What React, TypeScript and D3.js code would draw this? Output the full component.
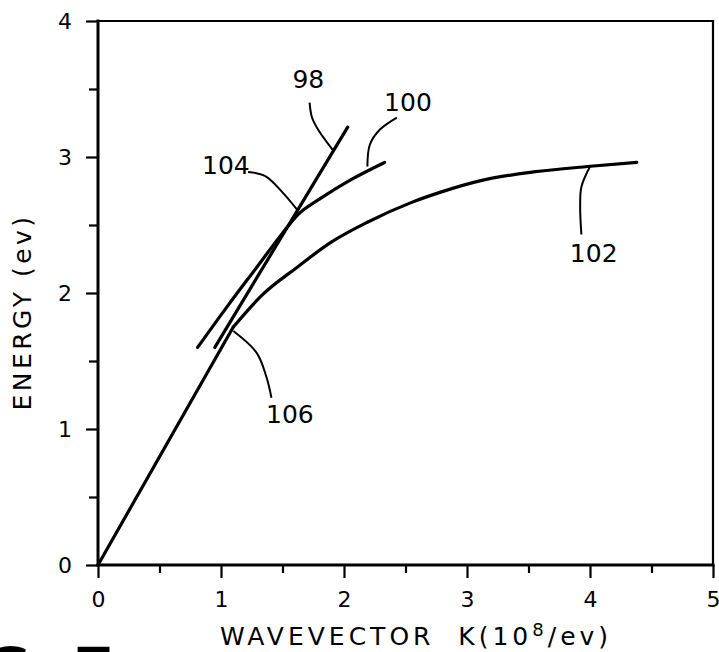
import { useEffect, useRef } from 'react';
import * as d3 from 'd3';

// axis ticks
const kTicks = [0, 1, 2, 3, 4, 5];
const kMinor = [0.5, 1.5, 2.5, 3.5, 4.5];
const eTicks = [0, 1, 2, 3, 4];
const eMinor = [0.5, 1.5, 2.5, 3.5];

// curve 102 (straight from the origin up to the 106 junction, then bending over)
const curve102K = [0, 1.1, 1.34, 1.62, 1.89, 2.19, 2.56, 2.78, 3.13, 3.54, 3.98, 4.38];
const curve102E = [0, 1.75, 1.99, 2.19, 2.37, 2.52, 2.67, 2.74, 2.83, 2.89, 2.93, 2.96];

// straight line 98
const line98K = [0.95, 2.03];
const line98E = [1.6, 3.22];

// curve 100
const curve100K = [0.81, 1.05, 1.3, 1.5, 1.63, 1.8, 2.05, 2.33];
const curve100E = [1.6, 1.9, 2.2, 2.44, 2.58, 2.69, 2.83, 2.96];

// reference numerals and their leader lines (data units)
const labelText = ['98', '100', '104', '106', '102'];
const labelK = [1.71, 2.52, 1.04, 1.56, 4.03];
const labelE = [3.57, 3.40, 2.94, 1.11, 2.29];
const leaderK = [
  [1.72, 1.74, 1.79, 1.91],
  [2.43, 2.29, 2.21, 2.19],
  [1.22, 1.36, 1.5, 1.63],
  [1.1, 1.29, 1.37, 1.41],
  [4.0, 3.93, 3.92, 3.93],
];
const leaderE = [
  [3.4, 3.29, 3.2, 3.05],
  [3.29, 3.2, 3.09, 2.93],
  [2.89, 2.86, 2.74, 2.6],
  [1.72, 1.56, 1.38, 1.23],
  [2.93, 2.78, 2.63, 2.43],
];

const width = 719;
const height = 652;
const font = '"DejaVu Sans", sans-serif';

export default function App() {
  const svgRef = useRef<SVGSVGElement>(null);

  useEffect(() => {
    const x = d3.scaleLinear().domain([0, 5]).range([98, 713]);
    const y = d3.scaleLinear().domain([0, 4]).range([565, 21]);

    const svg = d3.select(svgRef.current);
    svg.selectAll('*').remove();

    svg.append('rect').attr('width', width).attr('height', height).attr('fill', '#fff');

    // frame
    const frame = [
      { x1: 0, y1: 0, x2: 0, y2: 4, w: 3 },
      { x1: 0, y1: 0, x2: 5, y2: 0, w: 3 },
      { x1: 0, y1: 4, x2: 5, y2: 4, w: 2.2 },
      { x1: 5, y1: 0, x2: 5, y2: 4, w: 2.2 },
    ];
    svg
      .selectAll('line.frame')
      .data(frame)
      .join('line')
      .attr('class', 'frame')
      .attr('x1', (d) => x(d.x1))
      .attr('y1', (d) => y(d.y1))
      .attr('x2', (d) => x(d.x2))
      .attr('y2', (d) => y(d.y2))
      .attr('stroke', '#000')
      .attr('stroke-width', (d) => d.w)
      .attr('stroke-linecap', 'square');

    const styleAxis = (g) => {
      g.select('.domain').remove();
      g.selectAll('line').attr('stroke', '#000').attr('stroke-width', 2.2);
      g.selectAll('text').attr('font-family', font).attr('font-size', 22).attr('fill', '#000');
    };

    svg
      .append('g')
      .attr('transform', `translate(0,${y(0)})`)
      .call(d3.axisBottom(x).tickValues(kTicks).tickSize(13).tickPadding(13).tickFormat(d3.format('d')))
      .call(styleAxis);
    svg
      .append('g')
      .attr('transform', `translate(0,${y(0)})`)
      .call(d3.axisBottom(x).tickValues(kMinor).tickSize(8).tickFormat(() => ''))
      .call(styleAxis);
    svg
      .append('g')
      .attr('transform', `translate(${x(0)},0)`)
      .call(d3.axisLeft(y).tickValues(eTicks).tickSize(12).tickPadding(14).tickFormat(d3.format('d')))
      .call(styleAxis);
    svg
      .append('g')
      .attr('transform', `translate(${x(0)},0)`)
      .call(d3.axisLeft(y).tickValues(eMinor).tickSize(9).tickFormat(() => ''))
      .call(styleAxis);

    const zip = (ks: number[], es: number[]) => ks.map((k, i) => [k, es[i]] as [number, number]);
    const straight = d3
      .line<[number, number]>()
      .x((d) => x(d[0]))
      .y((d) => y(d[1]));
    const smooth = d3
      .line<[number, number]>()
      .x((d) => x(d[0]))
      .y((d) => y(d[1]))
      .curve(d3.curveMonotoneX);

    const p102 = zip(curve102K, curve102E);
    const pieces = [
      straight(p102.slice(0, 2)),
      smooth(p102.slice(1)),
      straight(zip(line98K, line98E)),
      smooth(zip(curve100K, curve100E)),
    ];
    svg
      .selectAll('path.curve')
      .data(pieces)
      .join('path')
      .attr('class', 'curve')
      .attr('d', (d) => d)
      .attr('fill', 'none')
      .attr('stroke', '#000')
      .attr('stroke-width', 3.2)
      .attr('stroke-linecap', 'round');

    // leaders
    const leader = d3
      .line<[number, number]>()
      .x((d) => x(d[0]))
      .y((d) => y(d[1]))
      .curve(d3.curveCatmullRom);
    svg
      .selectAll('path.leader')
      .data(leaderK.map((ks, i) => zip(ks, leaderE[i])))
      .join('path')
      .attr('class', 'leader')
      .attr('d', leader)
      .attr('fill', 'none')
      .attr('stroke', '#000')
      .attr('stroke-width', 2);

    svg
      .selectAll('text.ref')
      .data(labelText)
      .join('text')
      .attr('class', 'ref')
      .attr('x', (d, i) => x(labelK[i]))
      .attr('y', (d, i) => y(labelE[i]))
      .attr('text-anchor', 'middle')
      .attr('dominant-baseline', 'central')
      .attr('font-family', font)
      .attr('font-size', 25)
      .text((d) => d);

    // axis titles
    const xt = svg
      .append('text')
      .attr('x', 220)
      .attr('y', 645)
      .attr('font-family', font)
      .attr('font-size', 25)
      .attr('letter-spacing', 4)
      .style('white-space', 'pre');
    xt.append('tspan').text('WAVEVECTOR  K(10');
    xt.append('tspan').attr('font-size', 18).attr('dy', -9).text('8');
    xt.append('tspan').attr('dy', 9).text('/ev)');

    svg
      .append('text')
      .attr('transform', 'translate(22,312) rotate(-90)')
      .attr('text-anchor', 'middle')
      .attr('dominant-baseline', 'central')
      .attr('font-family', font)
      .attr('font-size', 25)
      .attr('letter-spacing', 3.5)
      .text('ENERGY (ev)');

    // figure caption, cut off by the bottom edge as in the source scan
    svg
      .append('text')
      .attr('x', 114)
      .attr('y', 690)
      .attr('text-anchor', 'end')
      .attr('font-family', font)
      .attr('font-weight', 'bold')
      .attr('font-size', 58)
      .text('FIG. 7');
  }, []);

  return (
    <svg
      ref={svgRef}
      width={width}
      height={height}
      viewBox={`0 0 ${width} ${height}`}
      style={{ position: 'absolute', left: 0, top: 0 }}
    ></svg>
  );
}
